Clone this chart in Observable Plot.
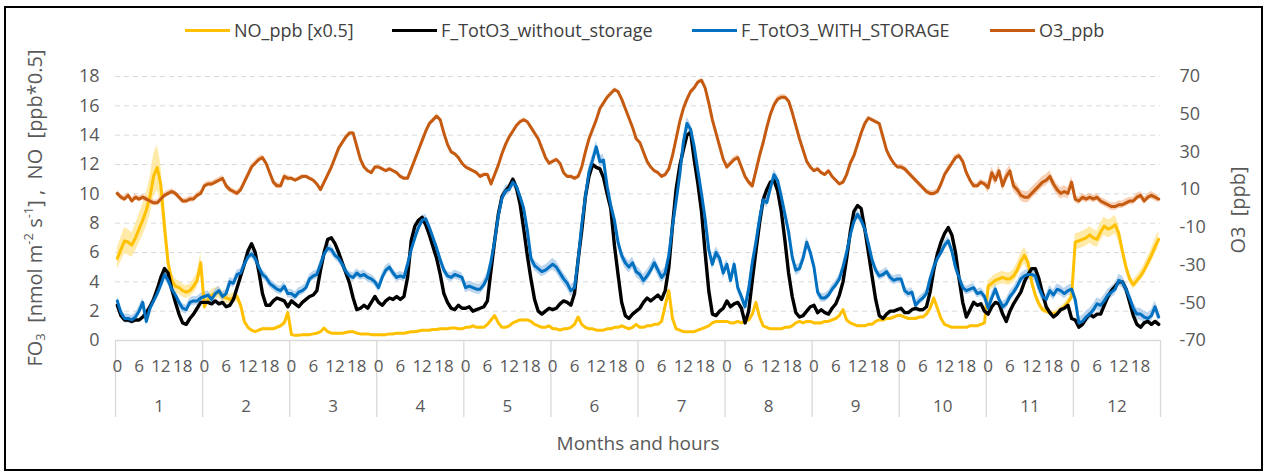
<!DOCTYPE html>
<html>
<head>
<meta charset="utf-8">
<script src="https://cdn.jsdelivr.net/npm/d3@7"></script>
<script src="https://cdn.jsdelivr.net/npm/@observablehq/plot@0.6"></script>
<style>
  html, body { margin: 0; padding: 0; background: #fff; }
  #wrap { position: relative; width: 1266px; height: 474px; overflow: hidden; font-family: "Open Sans", sans-serif; }
  #frame { position: absolute; left: 4px; top: 6px; width: 1255px; height: 461px; border: 2px solid #000; box-sizing: content-box; pointer-events: none; }
  .lg { position: absolute; top: 18px; display: flex; align-items: center; font-size: 18px; color: #404040; white-space: nowrap; }
  .lg .sw { display: inline-block; width: 45px; height: 3px; margin-right: 4px; }
  #chart { position: absolute; left: 0; top: 0; }
</style>
</head>
<body>
<div id="wrap">
  <div id="chart"></div>
  <div id="legend"></div>
  <div id="frame"></div>
</div>
<script>
// ---------------- data (hourly means, 24 values per month) ----------------
const months = [1, 2, 3, 4, 5, 6, 7, 8, 9, 10, 11, 12];
const hourTicks = [0, 6, 12, 18];
const leftTicks = [0, 2, 4, 6, 8, 10, 12, 14, 16, 18];
const rightTicks = [-70, -50, -30, -10, 10, 30, 50, 70];
const seriesNames = ["NO_ppb [x0.5]", "F_TotO3_without_storage", "F_TotO3_WITH_STORAGE", "O3_ppb"];
const seriesColors = ["#FFC000", "#000000", "#0070C0", "#C55A11"];

// NO_ppb [x0.5]
const noPpb = [
  5.6,6.2,6.8,6.7,6.5,7.0,7.6,8.2,8.9,9.8,11.2,11.8,10.6,7.8,5.3,4.1,3.7,3.6,3.4,3.3,3.4,3.7,4.1,5.3,
  2.3,2.8,3.1,3.2,3.3,3.0,2.9,2.8,2.9,3.0,2.4,1.3,0.9,0.7,0.6,0.7,0.8,0.8,0.8,0.8,0.9,1.0,1.2,1.9,
  0.4,0.35,0.35,0.4,0.4,0.4,0.45,0.5,0.6,0.85,0.6,0.5,0.5,0.5,0.5,0.55,0.6,0.6,0.5,0.45,0.45,0.45,0.4,0.4,
  0.4,0.4,0.4,0.45,0.45,0.5,0.5,0.5,0.55,0.6,0.6,0.65,0.7,0.7,0.7,0.75,0.75,0.8,0.8,0.8,0.85,0.85,0.8,0.8,
  0.9,0.9,1.0,0.9,0.9,0.9,1.1,1.4,1.7,1.2,0.9,0.9,1.0,1.2,1.3,1.4,1.4,1.4,1.3,1.1,1.0,0.9,0.9,1.0,
  0.8,0.8,0.7,0.8,0.8,0.9,1.1,1.6,1.1,0.9,0.8,0.8,0.7,0.7,0.7,0.8,0.8,0.9,0.9,1.0,0.9,0.8,0.9,1.1,
  0.9,0.9,1.0,1.0,1.1,1.1,1.3,2.4,3.4,1.5,0.8,0.7,0.6,0.6,0.6,0.6,0.7,0.8,0.9,1.0,1.2,1.3,1.3,1.3,
  1.3,1.2,1.2,1.3,1.2,1.3,1.4,1.8,2.6,1.6,1.0,0.9,0.8,0.8,0.8,0.8,0.9,0.9,1.0,1.2,1.3,1.2,1.3,1.3,
  1.2,1.2,1.2,1.3,1.3,1.4,1.5,1.7,2.1,1.4,1.2,1.1,1.0,1.0,1.0,1.1,1.1,1.3,1.4,1.4,1.5,1.5,1.6,1.7,
  1.7,1.6,1.5,1.5,1.5,1.6,1.6,1.8,2.2,2.9,2.2,1.5,1.1,1.0,0.9,0.9,0.9,0.9,0.9,1.0,1.0,1.0,1.1,1.2,
  3.7,3.9,4.1,4.2,4.3,4.2,4.2,4.4,4.8,5.4,5.8,5.3,4.0,3.1,2.5,2.1,2.0,1.9,1.8,1.9,2.1,2.3,2.6,3.0,
  6.7,6.8,6.9,7.0,7.2,7.0,6.9,7.4,7.8,7.6,7.7,7.9,7.3,6.1,5.0,4.2,3.8,4.1,4.4,4.8,5.3,5.8,6.4,6.9
];
// relative spread of the NO band, per month
const noBandFrac = [0.13, 0.12, 0.05, 0.05, 0.05, 0.05, 0.05, 0.05, 0.05, 0.06, 0.1, 0.08];

// F_TotO3_without_storage
const fWithout = [
  2.4,1.7,1.4,1.4,1.3,1.4,1.4,1.6,1.9,2.3,2.8,3.5,4.3,4.9,4.6,3.5,2.6,1.8,1.2,1.1,1.5,1.8,2.2,2.6,
  2.6,2.6,2.5,2.7,2.5,2.6,2.3,2.4,2.8,3.6,4.4,5.2,6.1,6.6,6.0,4.7,3.2,2.4,2.4,2.7,2.9,2.8,2.7,2.3,
  2.7,2.5,2.3,2.6,2.8,3.0,3.1,3.4,4.8,6.0,6.9,7.0,6.6,6.0,5.3,4.6,3.9,2.9,2.1,2.2,2.4,2.2,2.6,3.0,
  2.6,2.4,2.7,2.9,2.8,3.0,2.8,3.0,4.3,6.8,7.8,8.2,8.4,7.9,7.2,6.4,5.6,4.5,3.2,2.6,2.2,2.1,2.4,2.2,
  2.2,2.3,2.0,2.1,2.2,2.3,2.7,4.8,6.8,8.6,9.8,10.2,10.5,11.0,10.4,9.3,7.6,5.8,4.2,2.8,2.0,1.8,2.0,2.2,
  2.1,2.2,2.5,2.7,2.6,2.4,3.2,5.5,7.5,9.8,11.2,12.0,11.8,11.7,11.1,10.0,9.0,6.5,4.5,2.6,1.7,1.5,1.8,2.0,
  2.2,2.6,2.9,2.7,2.9,3.1,2.8,3.4,5.0,7.8,10.3,11.9,13.0,14.0,14.2,12.3,10.7,8.8,6.0,3.4,1.8,1.7,2.0,2.2,
  2.7,2.3,2.5,2.6,2.2,1.2,2.0,4.1,6.1,8.0,9.6,10.3,10.8,10.9,10.2,8.8,6.8,4.6,3.0,1.9,1.6,1.7,2.0,2.3,
  2.4,1.9,2.1,1.9,1.8,2.2,2.5,3.1,4.0,5.6,7.4,8.8,9.2,9.0,7.6,6.0,4.4,2.8,1.7,1.5,1.8,2.0,2.0,2.1,
  2.2,1.9,1.9,2.1,2.2,2.1,2.1,2.3,3.3,4.8,5.9,6.7,7.3,7.7,7.2,6.0,4.2,2.6,1.6,2.1,2.6,2.4,2.5,2.0,
  1.8,2.3,2.6,2.5,1.8,1.3,2.0,2.5,2.9,3.3,4.0,4.5,4.9,4.9,4.2,3.2,2.3,1.9,1.6,1.8,2.1,2.2,2.4,1.5,
  1.4,0.9,1.1,1.5,1.8,1.6,1.8,1.8,2.4,3.0,3.4,3.7,4.0,4.0,3.5,2.6,1.7,1.1,0.9,1.2,1.3,1.1,1.3,1.1
];

// F_TotO3_WITH_STORAGE
const fWith = [
  2.7,1.9,1.5,1.5,1.4,1.6,2.0,2.6,1.3,2.2,2.7,3.2,3.8,4.5,4.1,3.5,3.1,2.6,2.2,2.1,2.6,2.7,2.7,2.9,
  3.0,3.1,2.8,3.2,3.4,3.0,3.2,4.0,3.9,4.5,4.6,5.2,5.7,5.9,5.6,5.0,4.5,4.3,3.9,3.7,3.5,3.4,3.7,3.2,
  3.2,3.0,3.3,3.4,3.6,4.2,4.4,4.5,5.2,5.9,6.3,6.2,5.8,5.6,5.2,4.7,4.4,4.3,4.6,4.4,4.5,4.3,4.2,4.0,
  3.6,4.3,4.8,5.0,4.6,4.3,4.4,4.3,5.2,6.2,7.0,7.7,8.2,8.3,7.7,7.0,6.3,5.5,4.8,4.4,4.3,4.5,4.4,4.3,
  3.6,3.7,3.6,3.5,3.5,3.8,4.3,5.4,6.8,8.5,9.7,10.2,10.3,10.8,10.5,9.8,9.0,7.5,5.6,5.1,4.9,4.7,4.8,5.0,
  5.2,5.0,4.6,4.2,3.9,3.4,3.6,5.5,7.9,9.8,11.5,12.3,13.2,12.2,12.3,10.5,9.2,8.2,6.7,5.8,5.3,5.0,5.3,4.7,
  4.5,4.1,4.4,4.8,5.3,4.8,4.3,4.6,5.8,7.8,9.5,11.3,13.5,14.8,14.4,13.2,11.6,10.0,8.3,6.2,5.2,6.0,5.6,4.6,
  5.2,4.1,5.2,3.6,3.0,2.3,3.5,5.3,6.7,8.3,9.6,9.4,10.4,11.3,10.9,9.8,8.6,7.4,5.7,4.8,4.9,5.6,6.7,6.0,
  5.0,3.3,2.9,2.9,3.1,3.5,3.8,4.2,5.0,6.0,7.2,8.1,8.6,8.2,7.6,6.6,5.5,4.8,4.4,4.5,4.7,4.3,4.1,4.2,
  4.2,3.4,3.2,3.3,2.4,2.7,2.9,3.2,4.2,5.0,5.6,6.0,6.5,6.8,6.1,5.0,4.3,3.6,3.4,3.5,3.6,3.2,3.3,3.0,
  2.2,2.9,3.5,2.8,2.3,2.5,3.0,3.3,3.7,4.2,4.4,4.5,4.5,4.4,3.6,3.0,2.8,3.4,3.1,3.5,3.4,3.2,3.4,3.5,
  2.8,1.2,1.3,1.6,1.8,2.1,2.5,2.4,2.7,3.1,3.3,3.5,4.1,4.0,3.5,2.9,2.2,1.8,1.8,1.6,1.5,1.7,2.3,1.6
];
// half-width of the light blue band, per month
const fWithBand = [0.3, 0.3, 0.3, 0.3, 0.35, 0.4, 0.4, 0.35, 0.3, 0.3, 0.35, 0.4];

// O3_ppb (right axis)
const o3Ppb = [
  8,6,5,7,4,6,5,6,5,4,3,3,5,7,8,9,8,6,4,4,5,5,7,8,
  12,13,13,14,15,16,12,10,9,8,10,14,18,22,24,26,27,24,19,14,12,12,17,16,
  16,15,16,17,17,16,15,13,10,14,18,22,27,32,35,38,40,40,33,26,22,20,19,22,
  22,21,20,21,20,19,17,16,16,21,26,31,36,41,45,47,49,47,40,34,30,29,27,24,
  22,21,20,19,17,18,18,13,18,23,29,34,38,41,44,46,47,46,43,40,37,32,27,24,
  25,26,24,19,17,17,16,17,22,30,37,42,47,53,56,59,61,63,62,58,53,48,43,37,
  35,30,25,22,20,19,17,18,21,28,37,46,53,58,62,64,67,68,64,56,47,40,33,26,
  22,24,26,27,22,17,14,12,20,28,35,43,50,55,58,59,59,57,51,44,37,31,25,22,
  20,21,19,18,20,17,15,13,14,18,24,28,34,40,45,48,47,46,45,38,31,27,24,22,
  22,21,19,17,15,13,11,9,8,8,9,13,18,21,24,27,28,25,19,15,12,12,14,13,
  11,19,15,20,12,17,20,12,10,7,6,6,8,10,12,14,15,17,13,10,8,9,8,14,
  5,4,6,5,6,5,6,4,3,2,1,1,2,2,3,4,4,6,7,4,6,7,6,5
];
const o3Band = [1.5, 1.5, 1, 1, 1, 1, 1, 1.5, 1, 1.5, 3, 2];

// ---------------- build table ----------------
const HPM = 24;
const o3Min = rightTicks[0], o3Max = rightTicks[rightTicks.length - 1];
const yMax = leftTicks[leftTicks.length - 1];
const toLeft = v => (v - o3Min) * yMax / (o3Max - o3Min);
const fromLeft = v => v * (o3Max - o3Min) / yMax + o3Min;

const rows = noPpb.map((v, i) => {
  const m = Math.floor(i / HPM);
  return {
    x: i + 0.5, m,
    no: v, noLo: v * (1 - noBandFrac[m]), noHi: v * (1 + noBandFrac[m]),
    f0: fWithout[i],
    f1: fWith[i], f1Lo: fWith[i] - fWithBand[m], f1Hi: fWith[i] + fWithBand[m],
    o3: toLeft(o3Ppb[i]), o3Lo: toLeft(o3Ppb[i] - o3Band[m]), o3Hi: toLeft(o3Ppb[i] + o3Band[m])
  };
});

const nMonths = months.length;
const boundaries = d3.range(nMonths + 1).map(k => k * HPM);
const hourPos = months.flatMap((m, k) => hourTicks.map(h => k * HPM + h + 0.5));
const monthPos = months.map((m, k) => k * HPM + HPM / 2);
const gridVals = leftTicks.filter(v => v > 0);

const txt = "#595959";
const chart = Plot.plot({
  width: 1266,
  height: 474,
  marginLeft: 115,
  marginRight: 106,
  marginTop: 76,
  marginBottom: 134,
  x: {domain: [0, nMonths * HPM]},
  y: {domain: [0, yMax]},
  style: {fontFamily: "'Open Sans', sans-serif", background: "transparent", overflow: "visible"},
  marks: [
    Plot.ruleY(gridVals, {stroke: "#d9d9d9", strokeDasharray: "5,4", strokeWidth: 1}),
    Plot.ruleY([0], {stroke: "#d9d9d9", strokeWidth: 1.3}),
    Plot.axisY({ticks: leftTicks, tickSize: 0, tickPadding: 16, fontSize: 18, fill: txt, label: null}),
    Plot.axisY({anchor: "right", ticks: rightTicks.map(toLeft), tickFormat: d => String(Math.round(fromLeft(d))),
      tickSize: 0, tickPadding: 19, fontSize: 18, fill: txt, label: null}),
    Plot.axisX({ticks: boundaries, tickSize: 77, tickFormat: () => "", stroke: "#d9d9d9", strokeWidth: 1.3, label: null}),
    Plot.axisX({ticks: hourPos, tickFormat: d => String(Math.floor(d) % HPM), tickSize: 0, tickPadding: 19,
      fontSize: 17, fill: txt, label: null}),
    Plot.axisX({ticks: monthPos, tickFormat: d => String(months[Math.floor(d / HPM)]), tickSize: 0, tickPadding: 59,
      fontSize: 17, fill: txt, label: null}),
    Plot.text(["Months and hours"], {frameAnchor: "bottom", dy: 109, fontSize: 19, fill: txt}),
    // bands
    Plot.areaY(rows, {x: "x", y1: "noLo", y2: "noHi", fill: "#FFE699", fillOpacity: 0.85}),
    Plot.areaY(rows, {x: "x", y1: "f1Lo", y2: "f1Hi", fill: "#9DC3E6", fillOpacity: 0.7}),
    Plot.areaY(rows, {x: "x", y1: "o3Lo", y2: "o3Hi", fill: "#F4B183", fillOpacity: 0.6}),
    // lines
    Plot.lineY(rows, {x: "x", y: "no", stroke: seriesColors[0], strokeWidth: 3}),
    Plot.lineY(rows, {x: "x", y: "f0", stroke: seriesColors[1], strokeWidth: 3.4}),
    Plot.lineY(rows, {x: "x", y: "f1", stroke: seriesColors[2], strokeWidth: 3}),
    Plot.lineY(rows, {x: "x", y: "o3", stroke: seriesColors[3], strokeWidth: 3})
  ]
});
document.getElementById("chart").appendChild(chart);

// axis titles with sub/superscripts
const svg = d3.select(chart);
const lt = svg.append("text")
  .attr("transform", "translate(37,208) rotate(-90)")
  .attr("text-anchor", "middle").attr("dominant-baseline", "middle")
  .attr("fill", txt).attr("font-size", 20).attr("font-family", "'Open Sans', sans-serif");
lt.append("tspan").text("FO");
lt.append("tspan").attr("font-size", 13).attr("dy", 5).text("3");
lt.append("tspan").attr("dy", -5).text("\u00a0\u00a0[nmol m");
lt.append("tspan").attr("font-size", 13).attr("dy", -7).text("-2");
lt.append("tspan").attr("dy", 7).text(" s");
lt.append("tspan").attr("font-size", 13).attr("dy", -7).text("-1");
lt.append("tspan").attr("dy", 7).text("] ,\u00a0\u00a0NO\u00a0\u00a0[ppb*0.5]");

svg.append("text")
  .attr("transform", "translate(1240,210) rotate(-90)")
  .attr("text-anchor", "middle").attr("dominant-baseline", "middle")
  .attr("fill", txt).attr("font-size", 20).attr("font-family", "'Open Sans', sans-serif")
  .text("O3\u00a0\u00a0[ppb]");

// legend
const legendLeft = [185, 392, 692, 990];
const lg = d3.select("#legend");
seriesNames.forEach((name, i) => {
  const item = lg.append("div").attr("class", "lg").style("left", legendLeft[i] + "px");
  item.append("span").attr("class", "sw").style("background", seriesColors[i]);
  item.append("span").text(name);
});
</script>
</body>
</html>
